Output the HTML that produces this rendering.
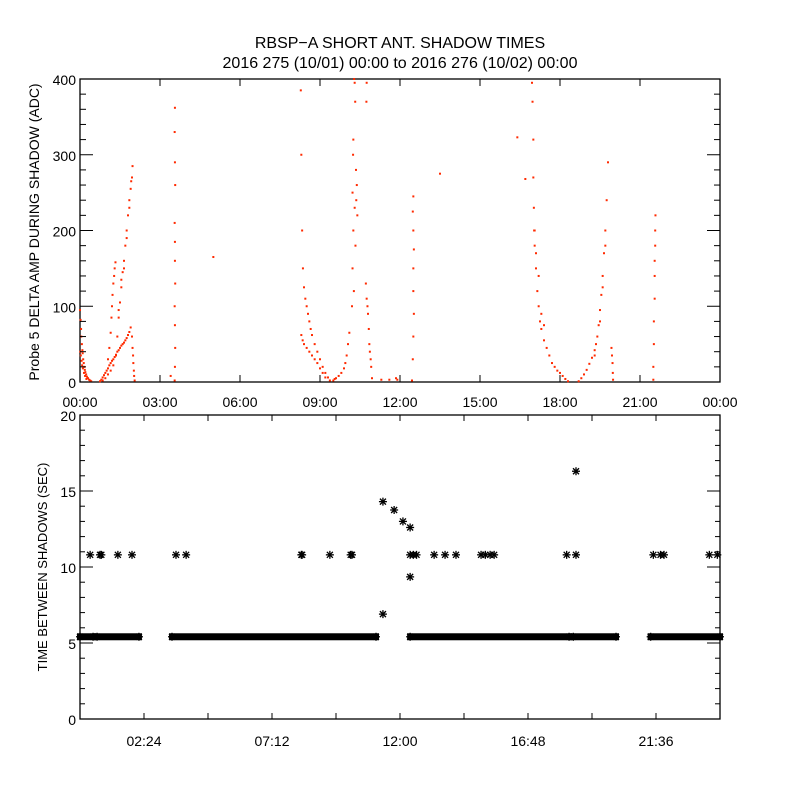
<!DOCTYPE html>
<html><head><meta charset="utf-8"><style>
body{margin:0;background:#fff;}
svg{display:block;font-family:"Liberation Sans",sans-serif;}
</style></head><body>
<svg id="chart" width="800" height="800" viewBox="0 0 800 800">
<rect width="800" height="800" fill="#fff"/>
<text x="400" y="48" font-size="16" text-anchor="middle">RBSP−A SHORT ANT. SHADOW TIMES</text>
<text x="400" y="68" font-size="16" text-anchor="middle">2016 275 (10/01) 00:00 to 2016 276 (10/02) 00:00</text>
<g id="topPanel"></g>
<g id="botPanel"></g>
</svg>
<script>
// ---- top panel data (hours, ADC) ----
const redHours = [0,0.02,0.04,0.05,0.07,0.09,0.1,0.12,0.14,0.16,0.18,0.2,0.23,0.26,0.3,0.34,0.38,0.42,0.01,0.03,0.06,0.08,0.11,0.15,0.19,0.24,
0.75,0.8,0.85,0.9,0.95,1.0,1.05,1.1,1.15,1.2,1.25,1.3,1.35,1.4,1.45,1.5,1.55,1.6,1.65,1.7,1.75,1.8,1.85,1.9,
0.85,0.95,1.05,1.15,1.25,
1.05,1.1,1.15,1.18,1.2,1.22,1.25,1.28,1.3,1.33,
1.35,1.4,1.45,1.5,1.55,1.6,1.65,1.7,1.75,1.8,1.85,1.9,1.95,1.97,
1.45,1.55,1.65,1.75,1.85,1.92,
1.95,1.97,1.99,2.0,2.02,2.03,2.05,
3.55,3.56,3.57,3.56,3.55,3.57,3.56,3.56,3.55,3.57,3.56,3.55,3.56,3.4,
5.0,
8.28,8.3,8.33,8.36,8.4,8.45,8.5,8.55,8.6,8.65,8.7,8.8,8.9,9.0,9.1,9.2,9.3,9.37,
8.3,8.35,8.4,8.5,8.6,8.7,8.8,8.9,9.0,9.1,9.2,
9.5,9.55,9.6,9.7,9.8,9.9,9.95,10.0,10.05,10.1,
10.2,10.22,10.25,10.22,10.28,10.3,10.32,10.35,10.25,10.3,10.38,10.4,10.33,10.27,10.36,10.24,
10.72,10.75,10.78,10.8,10.83,10.85,10.87,10.9,10.92,10.95,10.75,10.74,
11.3,11.6,11.85,11.9,
12.45,12.48,12.5,12.52,12.5,12.5,12.52,12.5,12.48,12.5,
13.5,16.4,16.7,
16.95,16.97,17.0,17.0,17.02,17.03,17.05,17.1,17.15,17.2,17.25,17.3,17.4,17.5,17.6,17.7,17.8,17.9,18.0,18.1,18.2,18.3,
17.05,17.1,17.2,17.3,17.4,
18.7,18.8,18.9,19.0,19.1,19.2,19.3,19.35,19.4,19.45,19.5,19.55,19.6,19.65,19.7,19.75,19.8,
19.3,19.5,19.6,19.7,
19.93,19.95,19.97,19.98,19.99,
21.5,21.5,21.52,21.52,21.55,21.55,21.55,21.57,21.57,21.58];
const redValues = [95,82,70,60,50,42,38,30,25,20,16,13,10,7,5,3,2,1,40,35,28,22,18,12,8,4,
1,3,6,9,12,15,18,22,25,28,30,33,36,40,42,45,48,50,52,55,58,62,66,72,
2,5,10,15,22,
30,45,65,85,100,115,130,140,150,158,
35,60,85,105,125,145,160,180,200,220,240,255,270,285,
95,135,150,190,230,265,
60,45,35,25,15,8,2,
2,20,45,75,100,130,160,185,210,260,290,330,362,8,
165,
385,300,200,150,125,110,100,90,80,70,62,50,40,30,20,12,6,2,
62,55,50,45,40,35,30,25,18,12,6,
2,4,5,8,12,18,25,35,50,65,
100,150,200,250,400,395,370,280,320,230,260,220,180,120,240,300,
130,110,100,90,70,50,40,30,20,5,395,370,
3,3,5,3,
2,30,60,90,120,150,175,200,225,245,
275,323,268,
395,370,320,270,230,200,180,150,120,100,80,70,55,45,35,25,20,15,12,8,4,1,
200,170,140,90,75,
1,5,10,16,24,32,42,50,60,75,95,115,140,170,200,240,290,
35,80,125,180,
45,35,25,12,3,
3,20,50,80,110,140,160,180,200,220];
const topXTicks = ["00:00","03:00","06:00","09:00","12:00","15:00","18:00","21:00","00:00"];
const topYTicks = [0,100,200,300,400];

// ---- bottom panel data ----
const bandStartHours = [0,0.64,3.45,12.38,18.5,21.4];
const bandEndHours = [0.49,2.21,11.1,18.34,20.1,24];
const bandValue = 5.41;
const starHours = [0.38,0.75,0.8,1.42,1.95,3.6,3.98,8.3,8.33,9.37,10.15,10.2,12.38,12.5,12.62,13.28,13.69,14.1,15.04,15.2,15.38,15.53,18.25,18.6,21.5,21.77,21.9,23.6,23.9,
11.36,11.78,12.11,12.38,12.38,11.36,18.6];
const starValues = [10.8,10.8,10.8,10.8,10.8,10.8,10.8,10.8,10.8,10.8,10.8,10.8,10.8,10.8,10.8,10.8,10.8,10.8,10.8,10.8,10.8,10.8,10.8,10.8,10.8,10.8,10.8,10.8,10.8,
14.3,13.75,13.0,12.6,9.35,6.9,16.3];
const botXTicks = ["02:24","07:12","12:00","16:48","21:36"];
const botYTicks = [0,5,10,15,20];

const NS = "http://www.w3.org/2000/svg";
function mk(tag, attrs, parent){const e=document.createElementNS(NS,tag);for(const k in attrs)e.setAttribute(k,attrs[k]);parent.appendChild(e);return e;}

// top axes
const T={l:80,r:720,t:79,b:382};
const tx=h=>T.l+h/24*(T.r-T.l);
const ty=v=>T.b-v/400*(T.b-T.t);
const topG=document.getElementById('topPanel');
const tf=mk('rect',{x:T.l,y:T.t,width:T.r-T.l,height:T.b-T.t,fill:'none',stroke:'#000','stroke-width':1.3},topG);


for(let i=0;i<redHours.length;i++){
  const d=mk('rect',{x:tx(redHours[i])-1,y:ty(redValues[i])-1,width:2,height:2,fill:'#ff2a00'},topG);
  
  
}
topXTicks.forEach((lab,i)=>{
  const x=tx(i*3);
  mk('line',{x1:x,x2:x,y1:T.b,y2:T.b-7,stroke:'#000'},topG);
  mk('line',{x1:x,x2:x,y1:T.t,y2:T.t+7,stroke:'#000'},topG);
  const t=mk('text',{x:x,y:T.b+25,'font-size':14,'text-anchor':'middle'},topG);
  t.textContent=lab;
  
  
});
for(let v=0;v<=400;v+=20){
  const y=ty(v),len=v%100===0?13:6;
  mk('line',{x1:T.l,x2:T.l+len,y1:y,y2:y,stroke:'#000'},topG);
  mk('line',{x1:T.r,x2:T.r-len,y1:y,y2:y,stroke:'#000'},topG);
}
topYTicks.forEach(v=>{
  const t=mk('text',{x:T.l-4,y:ty(v)+6,'font-size':14,'text-anchor':'end'},topG);
  t.textContent=v;
  
  
});
const tyl=mk('text',{x:0,y:0,'font-size':14,'text-anchor':'middle',transform:'translate(39,232) rotate(-90)'},topG);
tyl.textContent='Probe 5 DELTA AMP DURING SHADOW (ADC)';



// bottom axes
const B={l:80,r:720,t:415,b:719};
const bx=h=>B.l+h/24*(B.r-B.l);
const by=v=>B.b-v/20*(B.b-B.t);
const botG=document.getElementById('botPanel');
const bf=mk('rect',{x:B.l,y:B.t,width:B.r-B.l,height:B.b-B.t,fill:'none',stroke:'#000','stroke-width':1.3},botG);


function star(cx,cy,name){
  const g=mk('g',{stroke:'#000','stroke-width':1.3},botG);
  
  
  const r=4;
  mk('line',{x1:cx-r,x2:cx+r,y1:cy,y2:cy},g);
  mk('line',{x1:cx,x2:cx,y1:cy-r,y2:cy+r},g);
  mk('line',{x1:cx-3,x2:cx+3,y1:cy-3,y2:cy+3},g);
  mk('line',{x1:cx-3,x2:cx+3,y1:cy+3,y2:cy-3},g);
}
for(let i=0;i<bandStartHours.length;i++){
  const x1=bx(bandStartHours[i]),x2=bx(bandEndHours[i]),y=by(bandValue);
  const r=mk('rect',{x:x1-3,y:y-3.5,width:x2-x1+6,height:7,fill:'#000'},botG);
  
  
  star(x1,y,'interval-star');
  star(x2,y,'interval-star');
}
for(let i=0;i<starHours.length;i++){
  star(bx(starHours[i]),by(starValues[i]),'interval-star');
}
for(let k=0;k<=10;k++){
  const x=bx(k*2.4);
  mk('line',{x1:x,x2:x,y1:B.b,y2:B.b-6,stroke:'#000'},botG);
  mk('line',{x1:x,x2:x,y1:B.t,y2:B.t+6,stroke:'#000'},botG);
}
botXTicks.forEach((lab,i)=>{
  const t=mk('text',{x:bx(2.4+i*4.8),y:B.b+27,'font-size':14,'text-anchor':'middle'},botG);
  t.textContent=lab;
  
  
});
for(let v=0;v<=20;v++){
  const y=by(v),len=v%5===0?13:5;
  mk('line',{x1:B.l,x2:B.l+len,y1:y,y2:y,stroke:'#000'},botG);
  mk('line',{x1:B.r,x2:B.r-len,y1:y,y2:y,stroke:'#000'},botG);
}
botYTicks.forEach(v=>{
  const t=mk('text',{x:B.l-4,y:by(v)+6,'font-size':14,'text-anchor':'end'},botG);
  t.textContent=v;
  
  
});
const byl=mk('text',{x:0,y:0,'font-size':13,'text-anchor':'middle',transform:'translate(47,567) rotate(-90)'},botG);
byl.textContent='TIME BETWEEN SHADOWS (SEC)';


</script>
</body></html>
